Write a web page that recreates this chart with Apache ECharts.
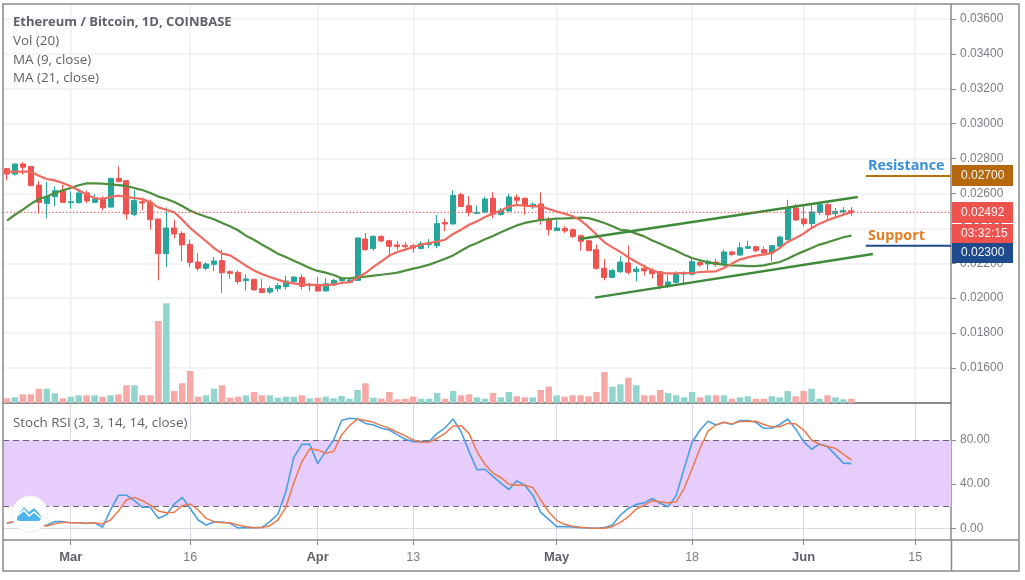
<!DOCTYPE html>
<html><head><meta charset="utf-8">
<style>html,body{margin:0;padding:0;background:#fff}#c{width:1025px;height:580px}</style>
<script src="https://cdn.jsdelivr.net/npm/echarts@6/dist/echarts.min.js"></script>
</head><body><div id="c"></div>
<script>
// prices are in units of 0.00001 BTC
const opens=[2742,2711,2769,2755,2648,2543,2581,2612,2547,2547,
2603,2549,2570,2522,2687,2673,2480,2553,2551,2454,
2255,2402,2371,2308,2207,2171,2194,2215,2152,2148,
2100,2108,2054,2035,2054,2066,2095,2119,2072,2075,
2041,2075,2100,2090,2102,2339,2284,2354,2329,2305,
2303,2301,2285,2308,2301,2433,2425,2593,2530,2486,
2494,2572,2480,2499,2578,2572,2526,2540,2450,2387,
2400,2392,2358,2329,2278,2171,2119,2152,2202,2152,
2171,2160,2152,2068,2091,2138,2137,2205,2196,2207,
2192,2265,2247,2286,2295,2278,2259,2297,2335,2517,
2454,2427,2492,2536,2484,2494,2501];
const closes=[2711,2769,2750,2645,2549,2583,2616,2549,2553,2603,
2557,2568,2518,2687,2668,2482,2559,2545,2450,2255,
2402,2368,2305,2205,2171,2196,2213,2146,2142,2095,
2110,2047,2032,2056,2072,2098,2121,2068,2079,2041,
2083,2102,2114,2104,2345,2278,2354,2328,2297,2295,
2295,2287,2312,2316,2427,2425,2589,2526,2492,2492,
2568,2482,2503,2580,2561,2530,2538,2446,2392,2402,
2385,2354,2326,2272,2171,2119,2158,2207,2148,2167,
2156,2140,2072,2093,2138,2144,2209,2190,2211,2192,
2265,2251,2289,2295,2272,2259,2301,2350,2517,2448,
2427,2494,2536,2478,2496,2503,2492];
const lows=[2675,2702,2708,2641,2484,2457,2526,2549,2513,2541,
2545,2545,2503,2518,2664,2450,2469,2503,2392,2102,
2179,2343,2211,2179,2154,2160,2154,2030,2110,2079,
2045,2045,2030,2024,2037,2049,2091,2049,2039,2039,
2039,2072,2090,2085,2100,2272,2272,2320,2240,2278,
2276,2262,2278,2286,2286,2383,2421,2522,2469,2480,
2488,2459,2473,2496,2536,2478,2511,2421,2360,2385,
2373,2345,2272,2272,2163,2102,2116,2144,2135,2096,
2129,2112,2049,2058,2083,2077,2129,2179,2160,2179,
2182,2240,2243,2286,2263,2249,2211,2291,2331,2442,
2412,2398,2477,2450,2469,2484,2469];
const highs=[2746,2771,2780,2755,2671,2666,2641,2650,2612,2622,
2616,2597,2584,2687,2755,2673,2618,2576,2564,2454,
2520,2450,2383,2335,2259,2205,2236,2278,2160,2160,
2137,2108,2110,2068,2087,2129,2125,2135,2087,2121,
2114,2110,2120,2110,2347,2373,2360,2360,2335,2328,
2320,2312,2326,2339,2477,2456,2618,2603,2584,2530,
2580,2606,2517,2599,2595,2576,2549,2606,2465,2446,
2412,2400,2364,2329,2307,2224,2167,2240,2301,2182,
2192,2171,2152,2135,2154,2154,2224,2221,2221,2224,
2278,2272,2320,2329,2301,2297,2305,2358,2564,2540,
2526,2536,2545,2545,2517,2522,2522];
const volumes=[4.7,5.7,8.7,8.7,14.3,14.3,9.7,4.7,6.3,7.7,
7.7,7.7,6.3,7.7,8.7,17.7,17.7,7.7,7.7,82,
99.7,12,19.7,32,6.3,7.7,14.3,17.7,5.3,6.3,
7.7,11,7.7,7.7,5.3,6.3,6.3,7.7,4.7,5.3,
6.3,4.7,7,4.3,13,19.7,5.3,4.3,11,3.7,
4.3,6.3,4.3,4.3,10,4.3,12,7.7,8.7,5.7,
4.3,10,5.7,11,6.7,5.7,5.7,13,16.3,7.7,
6.3,7.7,7.7,6.7,11,31,16.3,18.7,25.3,17.7,
7.7,7.7,13,10,7.7,5.7,11,5.7,7.7,7.7,
7.7,4.3,5.7,6.7,4.3,4.3,6.7,5.7,12,6.7,
12,14.3,4.3,7.7,5.7,3.7,4.3];
const ma9=[2725,2725,2725,2725,2702,2683,2675,2660,2641,2618,
2593,2574,2568,2580,2587,2580,2574,2568,2549,2520,
2507,2492,2450,2402,2364,2326,2287,2255,2245,2217,
2186,2159,2138,2121,2106,2091,2085,2079,2077,2075,
2075,2079,2087,2091,2116,2144,2179,2211,2244,2265,
2278,2293,2307,2316,2324,2335,2368,2392,2421,2440,
2465,2484,2501,2526,2534,2530,2526,2526,2511,2497,
2484,2469,2446,2408,2364,2320,2291,2265,2234,2207,
2182,2160,2144,2142,2142,2144,2144,2150,2152,2154,
2173,2198,2221,2234,2244,2249,2259,2287,2322,2345,
2370,2402,2427,2446,2463,2478,2492];
const ma21=[2444,2478,2507,2540,2568,2583,2603,2618,2631,2647,
2658,2658,2656,2652,2648,2643,2631,2620,2603,2582,
2568,2551,2528,2501,2482,2467,2452,2431,2412,2389,
2358,2335,2307,2282,2255,2236,2215,2194,2173,2156,
2146,2133,2114,2114,2119,2123,2129,2134,2140,2146,
2158,2169,2179,2192,2209,2226,2245,2272,2297,2316,
2337,2356,2377,2398,2417,2431,2440,2448,2452,2456,
2457,2459,2461,2459,2446,2431,2412,2392,2387,2370,
2354,2331,2312,2291,2272,2249,2230,2217,2205,2198,
2192,2188,2186,2184,2184,2188,2198,2207,2226,2249,
2268,2287,2307,2320,2335,2349,2358];
const stochK=[4.5,6,5.4,3.6,2.4,3,6,6,5,5,
4.5,5,1,16.6,30,30,25,19,19,9,
12,22,28,18,7.5,3,5.7,5.7,4.5,.3,
.6,.6,.9,6,12.7,33,64,76,76,58.6,
69.5,80,97.6,99.7,99,95,93.6,90.6,89,84.6,
80.7,78.5,78.5,78.5,86,91,99,87.6,69.5,53,
53.5,47,41,35,43,39,30,14.5,8,1.5,
1.5,1.2,.6,.3,0,.6,3,12,18,21.7,
23,27,22.7,19.6,29.6,54,78,89,97,93.6,
96,94,97.6,97.6,96,90.6,90.6,94,99,90,
78.5,71.6,76.4,74,66.5,59,58.6];
const stochD=[5,6,5.4,4,3,2,4,5.4,5,5,
4.5,5,4,7.5,15.7,25.7,28,25,21,15.7,
14,14.5,20.5,22,16.6,9,6,5,5,3,
1.5,.6,.6,2.4,7.5,19,41,60,72,71,
68,69.5,84.6,93,99,97.6,96,93,90.6,87,
83.7,80,78,78,81.6,86,92.7,93,86,69.5,
58,50,46,40,39,39,37,25.7,15,7,
3.6,1.8,.9,.3,0,0,1.5,5.4,10.6,17.5,
21,25,24,23,24,36,54,72.5,88,93.6,
96,94.6,96.7,96.7,97,94,92,92,95,94.6,
89,80,76,74,72.5,67,62];
const upperTrend=[[71.9,2339],[106.8,2580]];
const lowerTrend=[[73.8,2003],[108.7,2253]];
const lastPrice=2492;
const resistanceLevel=2700;
const supportLevel=2300;
const levelStartIndex=107.8;
const dayCount=119;
const tickIndex=[8,23,39,51,69,86,100,114];
const tickLabels=['Mar','16','Apr','13','May','18','Jun','15'];
const priceTicks=[1600,1800,2000,2200,2400,2600,2800,3000,3200,3400,3600];
const stochTicks=[0,40,80];

const UP='#26A69A',DOWN='#EF5350',VUP='#93D5CC',VDOWN='#F7A9A7';
const GRID='#EEF1F6',FRAME='#8A8A8A',TXT='#7A7D85';
const FONT='"Liberation Sans", Arial, sans-serif', HEAD='"Open Sans", sans-serif';
const categories=Array.from({length:dayCount},(_,i)=>String(i));
const isTick=i=>tickIndex.indexOf(+i)>=0;
const labelOf=i=>tickLabels[tickIndex.indexOf(+i)];

const candleData=opens.map((o,i)=>[o,closes[i],lows[i],highs[i]]);
const volData=volumes.map((v,i)=>({value:v,itemStyle:{color:closes[i]>=opens[i]?VUP:VDOWN}}));

function tag(y1,y2,fill,text){
 return [{type:'rect',z:100,shape:{x:952,y:y1,width:61,height:y2-y1},style:{fill}},
 {type:'text',z:101,style:{text,x:961,y:(y1+y2)/2,fill:'#F4F4F4',font:'12px '+FONT,textVerticalAlign:'middle'}}];
}
function legend(y,text,bold,size){
 return {type:'text',z:100,style:{text,x:13,y,fill:'#5F6269',font:(bold?'bold ':'')+(size||13.4)+'px '+HEAD,textVerticalAlign:'middle'}};
}
const graphics=[
 {type:'rect',z:90,shape:{x:3,y:4,width:1016,height:567},style:{fill:'none',stroke:FRAME,lineWidth:1.5}},
 {type:'line',z:90,shape:{x1:951.5,y1:540,x2:1019,y2:540},style:{stroke:FRAME,lineWidth:1.5}},
 {type:'line',z:90,shape:{x1:951.5,y1:540,x2:951.5,y2:571},style:{stroke:FRAME,lineWidth:1.5}},
 legend(22,'Ethereum / Bitcoin, 1D, COINBASE',true,13),
 legend(41,'Vol (20)'),legend(60,'MA (9, close)'),legend(78,'MA (21, close)'),
 legend(423,'Stoch RSI (3, 3, 14, 14, close)'),
 ...tag(165,186,'#B5690C','0.02700'),
 ...tag(202,223,DOWN,'0.02492'),
 ...tag(224,243,DOWN,'03:32:15'),
 ...tag(243,263,'#1F4A8C','0.02300'),
 {type:'text',z:100,style:{text:'Resistance',x:868,y:166,fill:'#3B8FD9',font:'bold 14.3px '+HEAD,textVerticalAlign:'middle'}},
 {type:'text',z:100,style:{text:'Support',x:868,y:236,fill:'#E67E22',font:'bold 14.3px '+HEAD,textVerticalAlign:'middle'}},
 {type:'circle',z:100,shape:{cx:30,cy:514,r:18},style:{fill:'#FFF',stroke:'#EEE',lineWidth:1}},
 {type:'polygon',z:101,shape:{points:[[17,517],[19,513],[24,507],[29,512],[34,508],[38,512],[41,516],[41,519],[39,521],[19,521],[17,520]]},style:{fill:'#4FB3EC'}},
 {type:'polyline',z:102,shape:{points:[[17,516],[24,510],[29,516],[34,512],[41,518]]},style:{fill:'none',stroke:'#FFF',lineWidth:1.6}}
];
function lineOn(name,data,color,width,type){
 return {name,type:'line',xAxisIndex:2,yAxisIndex:0,data,symbol:'none',silent:true,z:6,animation:false,
  lineStyle:{color,width,type:type||'solid'}};
}
const option={
 animation:false,backgroundColor:'#fff',
 grid:[{left:3,right:74,top:4,height:399,containLabel:false},{left:3,right:74,top:403,height:137}],
 graphic:graphics,
 xAxis:[
  {type:'category',gridIndex:0,data:categories,boundaryGap:true,
   axisLine:{show:true,onZero:false,lineStyle:{color:FRAME,width:2}},axisTick:{show:false},axisLabel:{show:false},
   splitLine:{show:true,alignWithLabel:true,interval:(i)=>isTick(i),lineStyle:{color:GRID,width:1.5}}},
  {type:'category',gridIndex:1,data:categories,boundaryGap:true,
   axisLine:{show:true,onZero:false,lineStyle:{color:FRAME,width:1.5}},
   axisTick:{show:true,alignWithLabel:true,length:5,interval:(i)=>isTick(i),lineStyle:{color:FRAME}},
   axisLabel:{show:true,interval:(i)=>isTick(i),margin:11,hideOverlap:false,
    formatter:(v)=>{const t=labelOf(v);return /\d/.test(t)?'{n|'+t+'}':'{b|'+t+'}';},
    rich:{n:{color:TXT,fontFamily:FONT,fontSize:12.5},b:{color:'#5F6269',fontFamily:FONT,fontSize:13,fontWeight:'bold'}}},
   splitLine:{show:true,alignWithLabel:true,interval:(i)=>isTick(i),lineStyle:{color:'#DCD6E6',width:1}}},
  {type:'value',gridIndex:0,min:-0.5,max:dayCount-0.5,show:false,splitLine:{show:false}}
 ],
 yAxis:[
  {type:'value',gridIndex:0,position:'right',min:1399,max:3686,scale:true,
   axisLine:{show:true,onZero:false,lineStyle:{color:FRAME,width:1.5}},
   axisTick:{show:true,length:5,customValues:priceTicks,lineStyle:{color:FRAME}},
   axisLabel:{show:true,margin:9,color:TXT,fontFamily:FONT,fontSize:12,customValues:priceTicks,
    showMinLabel:true,showMaxLabel:true,formatter:(v)=>(v/100000).toFixed(5)},
   splitLine:{show:true,lineStyle:{color:GRID,width:1.5}}},
  {type:'value',gridIndex:0,min:0,max:399,show:false,splitLine:{show:false}},
  {type:'value',gridIndex:1,position:'right',min:-10.6,max:113.5,
   axisLine:{show:true,onZero:false,lineStyle:{color:FRAME,width:1.5}},
   axisTick:{show:true,length:5,customValues:stochTicks,lineStyle:{color:FRAME}},
   axisLabel:{show:true,margin:9,color:TXT,fontFamily:FONT,fontSize:12,customValues:stochTicks,
    formatter:(v)=>v.toFixed(2)},
   splitLine:{show:true,lineStyle:{color:'#DCD6E6',width:1}}}
 ],
 series:[
  {name:'Vol',type:'bar',xAxisIndex:0,yAxisIndex:1,data:volData,barWidth:6.5,silent:true,z:2},
  {name:'Candles',type:'candlestick',xAxisIndex:0,yAxisIndex:0,data:candleData,barWidth:5.5,silent:true,z:3,
   itemStyle:{color:UP,color0:DOWN,borderColor:UP,borderColor0:DOWN,borderWidth:1}},
  {name:'MA21',type:'line',xAxisIndex:0,yAxisIndex:0,data:ma21,symbol:'none',silent:true,z:4,
   lineStyle:{color:'#4E8F3E',width:2.2}},
  {name:'MA9',type:'line',xAxisIndex:0,yAxisIndex:0,data:ma9,symbol:'none',silent:true,z:5,
   lineStyle:{color:'#EE6A5E',width:2.2}},
  lineOn('Upper trend',upperTrend,'#3F8B3A',2.4),
  lineOn('Lower trend',lowerTrend,'#3F8B3A',2.4),
  lineOn('Last price',[[-0.5,lastPrice],[dayCount-0.5,lastPrice]],'#EF5350',1,[1.5,2]),
  lineOn('Resistance',[[levelStartIndex,resistanceLevel],[dayCount-0.5,resistanceLevel]],'#B5730F',2),
  lineOn('Support',[[levelStartIndex,supportLevel],[dayCount-0.5,supportLevel]],'#1F4A8C',2),
  {name:'K',type:'line',xAxisIndex:1,yAxisIndex:2,data:stochK,symbol:'none',silent:true,z:5,
   lineStyle:{color:'#4A9FE3',width:1.6},
   markArea:{silent:true,z:1,itemStyle:{color:'#E7CDFC',opacity:1},data:[[{yAxis:20},{yAxis:80}]]},
   markLine:{silent:true,symbol:'none',z:2,label:{show:false},lineStyle:{color:'#66646E',type:[6,4],width:1.2},data:[{yAxis:80},{yAxis:20}]}},
  {name:'D',type:'line',xAxisIndex:1,yAxisIndex:2,data:stochD,symbol:'none',silent:true,z:6,
   lineStyle:{color:'#EA7A4C',width:1.5}}
 ]
};
echarts.init(document.getElementById('c')).setOption(option);
</script></body></html>
